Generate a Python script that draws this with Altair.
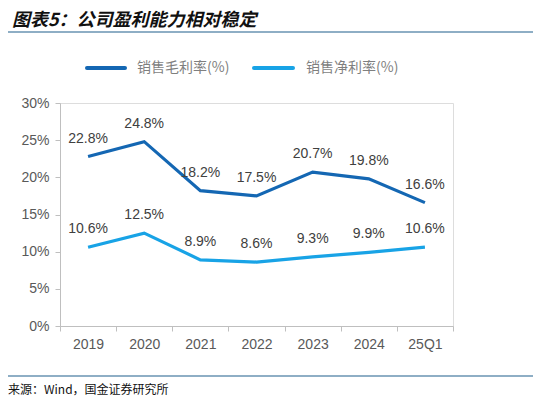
import pandas as pd
import altair as alt

# ── data ─────────────────────────────────────────────────────────────────────
periods = ["2019", "2020", "2021", "2022", "2023", "2024", "25Q1"]
gross_margin = [22.8, 24.8, 18.2, 17.5, 20.7, 19.8, 16.6]
net_margin = [10.6, 12.5, 8.9, 8.6, 9.3, 9.9, 10.6]
series_names = ["销售毛利率(%)", "销售净利率(%)"]
y_ticks = [0, 5, 10, 15, 20, 25, 30]

DARK_BLUE = "#1467B3"
LIGHT_BLUE = "#18A3E6"
TEXT_GREY = "#404040"
AXIS_GREY = "#BFBFBF"
RULE_BLUE = "#1F5F8B"
FONT = "Noto Sans CJK SC"

rows = []
for name, vals in zip(series_names, [gross_margin, net_margin]):
    for p, v in zip(periods, vals):
        rows.append({"period": p, "series": name, "value": v,
                     "label": f"{v:.1f}%"})
df = pd.DataFrame(rows)

W, H = 393, 223

x_enc = alt.X("period:N", sort=periods, title=None,
              scale=alt.Scale(paddingInner=0, paddingOuter=0),
              axis=alt.Axis(labelAngle=0, labelFontSize=14, labelColor="#595959",
                            labelFont="Liberation Sans", labelPadding=6,
                            domainColor=AXIS_GREY, tickColor=AXIS_GREY,
                            tickBand="extent", tickSize=5, grid=False))
y_enc = alt.Y("value:Q", title=None,
              scale=alt.Scale(domain=[0, 30]),
              axis=alt.Axis(values=y_ticks, labelExpr="datum.value + '%'",
                            labelOverlap=False,
                            labelFontSize=14, labelColor="#595959",
                            labelFont="Liberation Sans", labelPadding=6,
                            domainColor=AXIS_GREY, tickColor=AXIS_GREY,
                            tickSize=5, grid=False))
color_enc = alt.Color("series:N", scale=alt.Scale(domain=series_names,
                                                  range=[DARK_BLUE, LIGHT_BLUE]),
                      legend=None)

base = alt.Chart(df)

lines = base.mark_line(strokeWidth=3.2).encode(x=x_enc, y=y_enc, color=color_enc)

labels = base.mark_text(baseline="bottom", dy=-11, fontSize=14,
                        font="Liberation Sans", color=TEXT_GREY).encode(
    x=x_enc, y=y_enc, text="label:N")

# ── decoration: title, legend, source ─────────────────────────────────────────
one = pd.DataFrame({"a": [0]})

title = alt.Chart(pd.DataFrame({"t": ["图表5：公司盈利能力相对稳定"]})).mark_text(
    align="left", baseline="middle", fontSize=18, fontWeight="bold",
    fontStyle="italic", font=FONT, color="#111111").encode(
    x=alt.value(-48), y=alt.value(-82), text="t:N")

top_rule = alt.Chart(one).mark_rule(color=RULE_BLUE, strokeWidth=1.2).encode(
    x=alt.value(-55), x2=alt.value(475), y=alt.value(-71))

bottom_rule = alt.Chart(one).mark_rule(color=RULE_BLUE, strokeWidth=1.2).encode(
    x=alt.value(-55), x2=alt.value(475), y=alt.value(273))

source = alt.Chart(pd.DataFrame({"t": ["来源：Wind，国金证券研究所"]})).mark_text(
    align="left", baseline="middle", fontSize=12, font=FONT,
    color="#111111").encode(x=alt.value(-52), y=alt.value(287), text="t:N")

legend_layers = []
for name, colr, x0, x1, xt in zip(series_names, [DARK_BLUE, LIGHT_BLUE],
                                  [27, 194], [65, 233], [77, 246]):
    legend_layers.append(
        alt.Chart(one).mark_rule(strokeWidth=4, strokeCap="round", color=colr)
        .encode(x=alt.value(x0), x2=alt.value(x1), y=alt.value(-35)))
    legend_layers.append(
        alt.Chart(pd.DataFrame({"t": [name]})).mark_text(
            align="left", baseline="middle", fontSize=14, font=FONT,
            color="#7F7F7F").encode(x=alt.value(xt), y=alt.value(-35), text="t:N"))

chart = (
    alt.layer(lines, labels, title, top_rule, bottom_rule, source, *legend_layers)
    .properties(width=W, height=H,
                autosize=alt.AutoSizeParams(type="none"),
                padding={"left": 52, "top": 95, "right": 80, "bottom": 72})
    .configure_view(strokeWidth=0)
    .configure(background="white")
)

chart.save("out.html", embed_options={"renderer": "svg", "actions": False})
